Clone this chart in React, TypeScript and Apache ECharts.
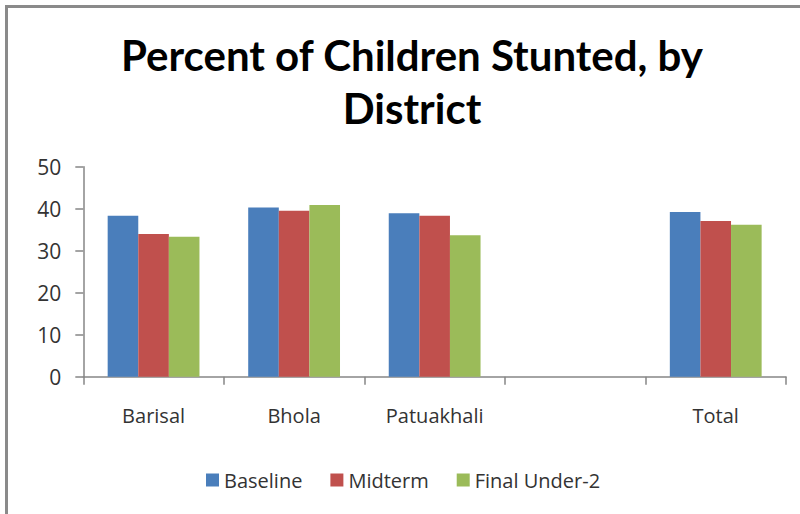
import React, { useEffect, useRef } from "react";
import * as echarts from "echarts";

const categories = ["Barisal", "Bhola", "Patuakhali", "", "Total"];
const seriesNames = ["Baseline", "Midterm", "Final Under-2"];
const baseline = [38.3, 40.3, 38.9, null, 39.2];
const midterm = [34.0, 39.5, 38.3, null, 37.1];
const finalUnder2 = [33.3, 40.9, 33.7, null, 36.2];
const colors = ["#4A7EBB", "#C0504D", "#9BBB59"];
const yTicks = { min: 0, max: 50, interval: 10 };
const titleText = "Percent of Children Stunted, by\nDistrict";

export default function App() {
  const ref = useRef<HTMLDivElement>(null);
  useEffect(() => {
    if (!ref.current) return;
    const chart = echarts.init(ref.current, null, { renderer: "svg" });
    const values = [baseline, midterm, finalUnder2];
    chart.setOption({
      animation: false,
      backgroundColor: "#ffffff",
      title: {
        text: titleText,
        left: 407,
        top: 23,
        textAlign: "center",
        textStyle: {
          fontFamily: "Lato",
          fontWeight: "bold",
          fontSize: 42,
          lineHeight: 53,
          color: "#000000",
        },
      },
      graphic: [
        { type: "rect", shape: { x: 5, y: 5, width: 800, height: 3 }, style: { fill: "#8a8a8a" } },
        { type: "rect", shape: { x: 5, y: 5, width: 3, height: 520 }, style: { fill: "#8a8a8a" } },
      ],
      legend: {
        data: seriesNames,
        left: 201,
        top: 465,
        icon: "rect",
        itemWidth: 13,
        itemHeight: 13,
        itemGap: 28,
        textStyle: { fontFamily: "Open Sans", fontSize: 20, color: "#333333" },
      },
      grid: { left: 83.3, right: 14, top: 166.7, bottom: 137.3, containLabel: false },
      xAxis: {
        type: "category",
        data: categories,
        axisLine: { show: true, lineStyle: { color: "#868686", width: 1.5 } },
        axisTick: { show: true, alignWithLabel: false, length: 8, lineStyle: { color: "#868686", width: 1.5 } },
        axisLabel: { fontFamily: "Open Sans", fontSize: 20, color: "#333333", margin: 29 },
      },
      yAxis: {
        type: "value",
        min: yTicks.min,
        max: yTicks.max,
        interval: yTicks.interval,
        axisLine: { show: true, lineStyle: { color: "#868686", width: 1.5 } },
        axisTick: { show: true, length: 8, lineStyle: { color: "#868686", width: 1.5 } },
        splitLine: { show: false },
        axisLabel: { fontFamily: "Open Sans", fontSize: 21, color: "#333333", margin: 22 },
      },
      series: seriesNames.map((name, i) => ({
        name,
        type: "bar",
        data: values[i],
        barWidth: 30.6,
        barGap: "0%",
        itemStyle: { color: colors[i] },
      })),
    });
    return () => chart.dispose();
  }, []);
  return (
    <div
      ref={ref}
      style={{ position: "absolute", left: 0, top: 0, width: 800, height: 514 }}
    />
  );
}
